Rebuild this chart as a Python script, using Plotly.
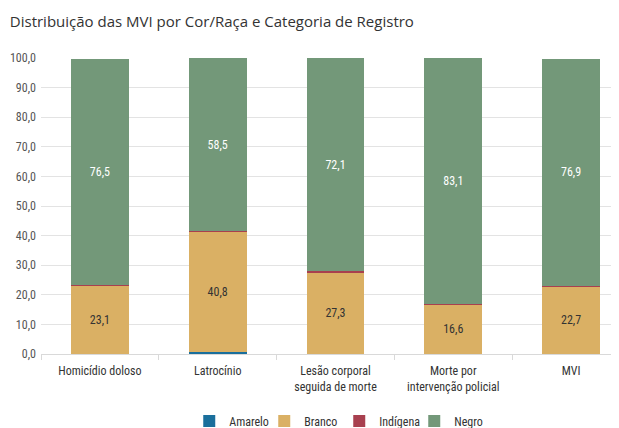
import plotly.graph_objects as go

categories = ["Homicídio doloso", "Latrocínio", "Lesão corporal<br>seguida de morte",
              "Morte por<br>intervenção policial", "MVI"]
amarelo = [0.1, 0.6, 0.1, 0.1, 0.1]
branco = [23.1, 40.8, 27.3, 16.6, 22.7]
indigena = [0.1, 0.1, 0.5, 0.1, 0.1]
negro = [76.5, 58.5, 72.1, 83.1, 76.9]
y_ticks = [0, 10, 20, 30, 40, 50, 60, 70, 80, 90, 100]

FONT = "Roboto Condensed, Liberation Sans Narrow, Roboto, sans-serif"

fig = go.Figure()
fig.add_trace(go.Bar(name="Amarelo", x=categories, y=amarelo, marker_color="#1a6f9c",
                     marker_line_width=0, width=0.49, hoverinfo="skip"))
fig.add_trace(go.Bar(name="Branco", x=categories, y=branco, marker_color="#dab064",
                     marker_line_width=0, width=0.49,
                     text=[f"{v:.1f}".replace(".", ",") for v in branco],
                     textposition="inside", insidetextanchor="middle",
                     textfont=dict(color="#333333", size=12, family=FONT)))
fig.add_trace(go.Bar(name="Indígena", x=categories, y=indigena, marker_color="#a8404f",
                     marker_line_width=0, width=0.49))
fig.add_trace(go.Bar(name="Negro", x=categories, y=negro, marker_color="#739879",
                     marker_line_width=0, width=0.49,
                     text=[f"{v:.1f}".replace(".", ",") for v in negro],
                     textposition="inside", insidetextanchor="middle",
                     textfont=dict(color="#ffffff", size=12, family=FONT)))

fig.update_traces(cliponaxis=False)

# page body has an 8px default margin, so the figure is sized 8px smaller
fig.update_layout(
    barmode="stack",
    width=611, height=420,
    margin=dict(l=33, r=0, t=50, b=74, autoexpand=False),
    plot_bgcolor="white", paper_bgcolor="white",
    separators=",.",
    uniformtext=dict(mode="show", minsize=8),
    title=dict(text="Distribuição das MVI por Cor/Raça e Categoria de Registro",
               x=0.003, xanchor="left", y=0.967, yanchor="middle",
               font=dict(family="Open Sans, sans-serif", size=15, color="#333333")),
    font=dict(family=FONT, size=12, color="#333333"),
    showlegend=True,
    legend=dict(orientation="h", x=0.516, xanchor="center", y=-0.226, yanchor="middle",
                font=dict(family=FONT, size=12, color="#333333"),
                entrywidth=30, entrywidthmode="pixels",
                traceorder="normal", itemwidth=30, itemclick=False),
    xaxis=dict(range=[-0.5, 4.407], showgrid=False, showline=True, linecolor="#d9d9d9",
               linewidth=1, ticks="outside", tickson="boundaries", ticklen=5,
               tickcolor="#d9d9d9", automargin=False, ticklabelstandoff=6,
               tickfont=dict(family=FONT, size=12, color="#333333")),
    yaxis=dict(range=[0, 100], tickvals=y_ticks, tickformat=".1f", showgrid=True,
               gridcolor="#e3e3e3", gridwidth=1, zeroline=False, showline=False,
               ticks="", ticklabelstandoff=4, automargin=False,
               tickfont=dict(family=FONT, size=12, color="#555555")),
)

fig.write_html("out.html")
